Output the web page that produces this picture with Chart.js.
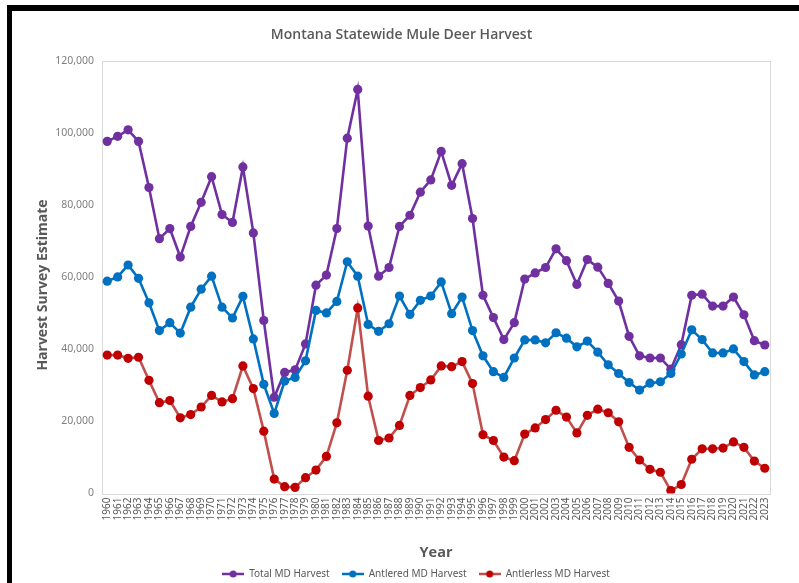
<!DOCTYPE html>
<html>
<head>
<meta charset="utf-8">
<script src="https://cdn.jsdelivr.net/npm/chart.js@4.4.1/dist/chart.umd.min.js"></script>
<style>
  body { margin: 0; background: #fff; overflow: hidden; }
  #wrap { position: relative; width: 799px; height: 583px; }
  #frameTop { position: absolute; left: 7px; top: 5px; width: 792px; height: 6px; background: #000; }
  #frameLeft { position: absolute; left: 7px; top: 5px; width: 5px; height: 578px; background: #000; }
  canvas { position: absolute; left: 0; top: 0; }
</style>
</head>
<body>
<div id="wrap">
  <div id="frameTop"></div>
  <div id="frameLeft"></div>
  <canvas id="myChart" width="799" height="583"></canvas>
</div>
<script>
// anos (categorias)
var years = ['1960','1961','1962','1963','1964','1965','1966','1967','1968','1969',
  '1970','1971','1972','1973','1974','1975','1976','1977','1978','1979',
  '1980','1981','1982','1983','1984','1985','1986','1987','1988','1989',
  '1990','1991','1992','1993','1994','1995','1996','1997','1998','1999',
  '2000','2001','2002','2003','2004','2005','2006','2007','2008','2009',
  '2010','2011','2012','2013','2014','2015','2016','2017','2018','2019',
  '2020','2021','2022','2023'];

var totalHarvest = [97700, 99100, 100900, 97700, 84900, 70700, 73500, 65600, 74100, 80800,
  87900, 77400, 75200, 90600, 72300, 48000, 26700, 33600, 34300, 41500,
  57800, 60600, 73500, 98600, 112100, 74200, 60300, 62700, 74100, 77200,
  83600, 87000, 94900, 85500, 91500, 76300, 55000, 48800, 42700, 47400,
  59500, 61200, 62700, 67900, 64600, 58000, 64900, 62800, 58300, 53400,
  43600, 38200, 37600, 37600, 34500, 41300, 55000, 55300, 52000, 52000,
  54500, 49600, 42400, 41200];

var antleredHarvest = [58900, 60100, 63400, 59700, 52900, 45200, 47400, 44500, 51700, 56700,
  60300, 51700, 48700, 54700, 42900, 30300, 22200, 31200, 32200, 36800,
  50800, 50100, 53300, 64300, 60300, 46900, 45000, 47100, 54800, 49700,
  53600, 54800, 58700, 49900, 54500, 45200, 38200, 33800, 32200, 37600,
  42600, 42600, 41800, 44600, 43100, 40700, 42300, 39200, 35700, 33300,
  30800, 28700, 30600, 31000, 33300, 38700, 45400, 42700, 39000, 39000,
  40100, 36600, 32900, 33800];

var antlerlessHarvest = [38400, 38400, 37500, 37800, 31400, 25200, 25800, 21000, 21900, 24000,
  27200, 25400, 26300, 35400, 29100, 17300, 4000, 1900, 1700, 4400,
  6500, 10300, 19600, 34200, 51500, 27000, 14700, 15400, 18900, 27200,
  29400, 31500, 35400, 35200, 36600, 30500, 16300, 14700, 10100, 9100,
  16500, 18200, 20500, 23100, 21200, 16800, 21700, 23400, 22400, 19900,
  12800, 9300, 6700, 5900, 800, 2500, 9500, 12400, 12400, 12600,
  14300, 12800, 9000, 7000];

var yTicks = [0, 20000, 40000, 60000, 80000, 100000, 120000];

var seriesNames = ['Total MD Harvest', 'Antlered MD Harvest', 'Antlerless MD Harvest'];
var lineColors = ['#7030a0', '#0070c0', '#c0504d'];
var dotColors = ['#7030a0', '#0070c0', '#c00000'];

var chartTitle = 'Montana Statewide Mule Deer Harvest';
var yTitle = 'Harvest Survey Estimate';

// simbolo da legenda: linha com bolinha no meio
function legendSymbol(lineColor, dotColor) {
  var c = document.createElement('canvas');
  c.width = 22; c.height = 10;
  var g = c.getContext('2d');
  g.strokeStyle = lineColor;
  g.lineWidth = 2.5;
  g.beginPath(); g.moveTo(0, 5); g.lineTo(22, 5); g.stroke();
  g.fillStyle = dotColor;
  g.beginPath(); g.arc(11, 5, 3.5, 0, Math.PI * 2); g.fill();
  return c;
}
var symbols = [0, 1, 2].map(function (i) { return legendSymbol(lineColors[i], dotColors[i]); });

// borda cinza da area do grafico + titulos
var extras = {
  id: 'extras',
  afterLayout: function (chart) {
    // empurra a legenda um pouco pra direita, como no excel
    chart.legend.left += 50;
  },
  beforeDatasetsDraw: function (chart) {
    var a = chart.chartArea, ctx = chart.ctx;
    ctx.save();
    ctx.strokeStyle = '#d9d9d9';
    ctx.lineWidth = 1;
    ctx.strokeRect(Math.round(a.left) + 0.5, Math.round(a.top) + 0.5,
      Math.round(a.right - a.left), Math.round(a.bottom - a.top));
    ctx.restore();
  },
  afterDraw: function (chart) {
    var ctx = chart.ctx;
    ctx.save();
    ctx.fillStyle = '#595959';
    ctx.textAlign = 'center';
    ctx.textBaseline = 'middle';
    ctx.font = '600 14px "Open Sans"';
    ctx.fillText(chartTitle, chart.width / 2 + 2, 35);
    ctx.font = 'bold 14px "Open Sans"';
    ctx.translate(43, 285);
    ctx.rotate(-Math.PI / 2);
    ctx.fillText(yTitle, 0, 0);
    ctx.restore();
  }
};

function makeSet(i, data, order) {
  return {
    label: seriesNames[i],
    data: data,
    borderColor: lineColors[i],
    backgroundColor: dotColors[i],
    pointBackgroundColor: dotColors[i],
    pointBorderWidth: 0,
    pointRadius: 4.6,
    borderWidth: 2.6,
    tension: 0,
    order: order
  };
}

const ctx = document.getElementById('myChart').getContext('2d');
const myChart = new Chart(ctx, {
  type: 'line',
  data: {
    labels: years,
    datasets: [
      makeSet(0, totalHarvest, 3),
      makeSet(1, antleredHarvest, 2),
      makeSet(2, antlerlessHarvest, 1)
    ]
  },
  plugins: [extras],
  options: {
    responsive: false,
    animation: false,
    layout: { padding: { left: 12, right: 29, top: 61, bottom: -6 } },
    plugins: {
      tooltip: { enabled: false },
      title: { display: false },
      legend: {
        position: 'bottom',
        labels: {
          usePointStyle: true,
          pointStyleWidth: 22,
          padding: 12,
          color: '#595959',
          font: { family: 'Noto Sans', size: 10 },
          sort: function (a, b) { return a.datasetIndex - b.datasetIndex; },
          generateLabels: function (chart) {
            var items = Chart.defaults.plugins.legend.labels.generateLabels(chart);
            items.forEach(function (it) { it.pointStyle = symbols[it.datasetIndex]; });
            return items;
          }
        }
      }
    },
    scales: {
      x: {
        offset: true,
        grid: { display: false, drawTicks: false },
        border: { display: false },
        ticks: {
          autoSkip: false,
          minRotation: 90,
          maxRotation: 90,
          padding: 4,
          color: '#595959',
          font: { family: 'Noto Sans', size: 10 }
        },
        title: {
          display: true,
          text: 'Year',
          color: '#595959',
          font: { family: 'Open Sans', size: 14.5, weight: 'bold' },
          padding: { top: 0, bottom: -5 }
        },
        afterFit: function (scale) { scale.height = 63.5; }
      },
      y: {
        min: 0,
        max: 120000,
        grid: { display: false, drawTicks: false },
        border: { display: false },
        afterBuildTicks: function (scale) {
          scale.ticks = yTicks.map(function (v) { return { value: v }; });
        },
        ticks: {
          padding: 8,
          color: '#7f7f7f',
          font: { family: 'Noto Sans', size: 10.5 },
          callback: function (v) { return v.toLocaleString('en-US'); }
        },
        afterFit: function (scale) { scale.width = 90; }
      }
    }
  }
});
</script>
</body>
</html>
